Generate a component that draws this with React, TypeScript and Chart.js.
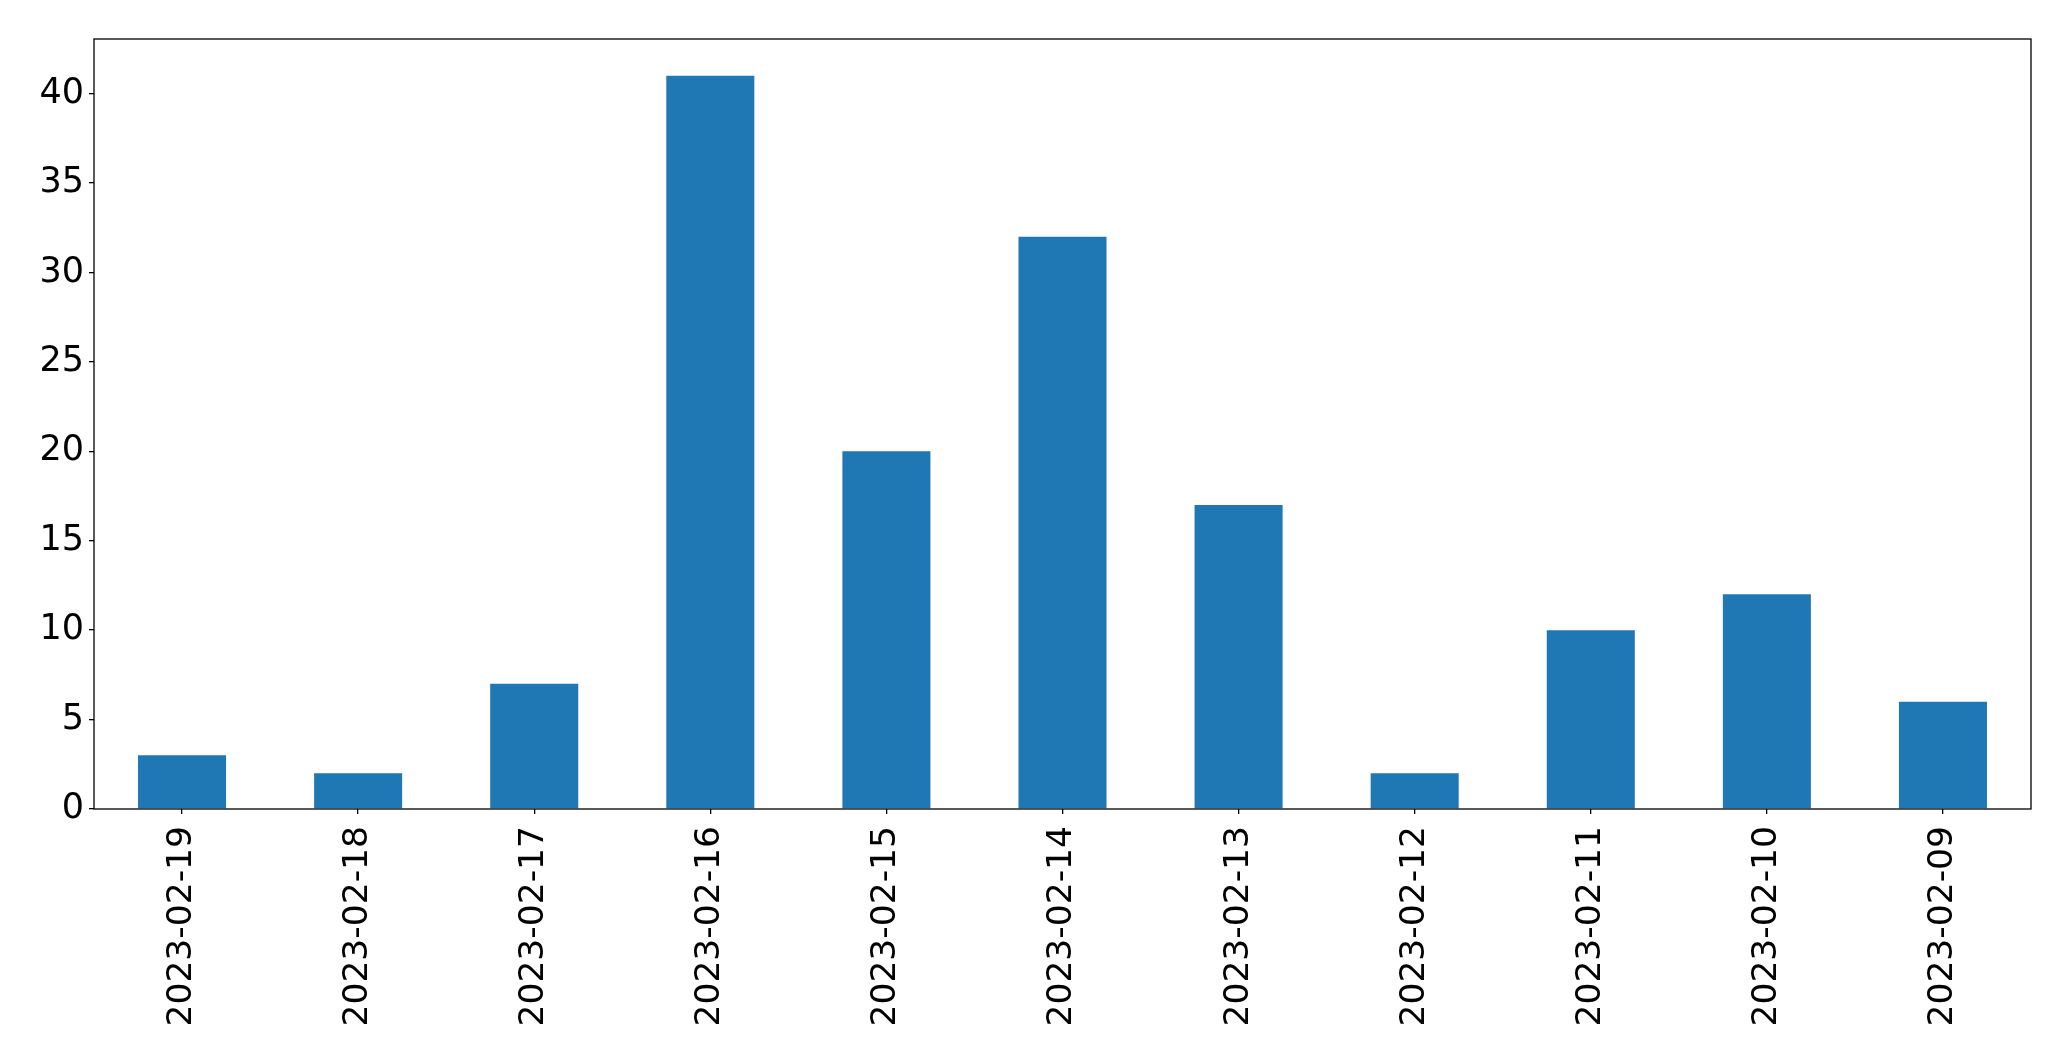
import React, { useEffect, useRef } from "react";
import { Chart, registerables } from "chart.js";

Chart.register(...registerables);

const categories = [
  "2023-02-19", "2023-02-18", "2023-02-17", "2023-02-16", "2023-02-15", "2023-02-14",
  "2023-02-13", "2023-02-12", "2023-02-11", "2023-02-10", "2023-02-09",
];
const counts = [3, 2, 7, 41, 20, 32, 17, 2, 10, 12, 6];
const yTicks = [0, 5, 10, 15, 20, 25, 30, 35, 40];

const W = 2071;
const H = 1061;

const boxPlugin = {
  id: "box",
  afterDraw(chart: any) {
    const { ctx, chartArea } = chart;
    ctx.save();
    ctx.strokeStyle = "#000";
    ctx.lineWidth = 1.3;
    ctx.strokeRect(chartArea.left, chartArea.top, chartArea.right - chartArea.left, chartArea.bottom - chartArea.top);
    ctx.restore();
  },
};

export default function App() {
  const ref = useRef<HTMLCanvasElement>(null);
  useEffect(() => {
    const chart = new Chart(ref.current!, {
      type: "bar",
      data: {
        labels: categories,
        datasets: [
          {
            data: counts,
            backgroundColor: "#1f77b4",
            barPercentage: 0.5,
            categoryPercentage: 1,
          },
        ],
      },
      options: {
        responsive: false,
        animation: false,
        devicePixelRatio: 1,
        layout: { padding: { top: 39, right: 40, left: 0, bottom: 0 } },
        plugins: { legend: { display: false }, tooltip: { enabled: false } },
        scales: {
          x: {
            offset: true,
            grid: { display: true, offset: false, drawOnChartArea: false, drawTicks: true, tickLength: 5, color: "#000", lineWidth: 1.3 },
            border: { display: false },
            ticks: {
              minRotation: 90,
              maxRotation: 90,
              autoSkip: false,
              padding: 12,
              color: "#000",
              font: { family: "DejaVu Sans", size: 34.5 },
            },
            afterFit(scale: any) {
              scale.height = 252;
            },
          },
          y: {
            min: 0,
            max: 43.05,
            afterBuildTicks(scale: any) {
              scale.ticks = yTicks.map((v) => ({ value: v }));
            },
            grid: { display: true, drawOnChartArea: false, drawTicks: true, tickLength: 5, color: "#000", lineWidth: 1.3 },
            border: { display: false },
            ticks: {
              padding: 5,
              color: "#000",
              font: { family: "DejaVu Sans", size: 35 },
            },
            afterFit(scale: any) {
              scale.width = 94;
            },
          },
        },
      },
      plugins: [boxPlugin],
    });
    return () => chart.destroy();
  }, []);
  return (
    <div style={{ position: "fixed", left: 0, top: 0, width: W, height: H, background: "#fff" }}>
      <canvas ref={ref} width={W} height={H} style={{ width: W, height: H, display: "block" }} />
    </div>
  );
}
